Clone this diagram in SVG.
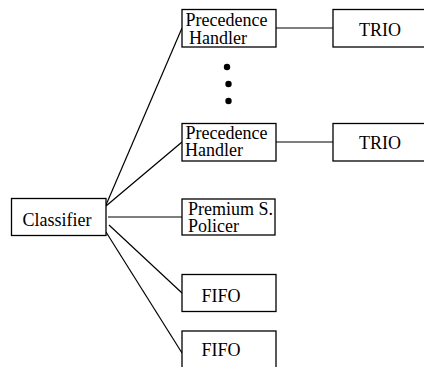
<svg xmlns="http://www.w3.org/2000/svg" width="424" height="367" viewBox="0 0 424 367">
  <style>
    .box { fill: #fff; stroke: #000; stroke-width: 1.3; }
    .lbl { font-family: "Liberation Serif", "Times New Roman", serif; font-size: 18px; fill: #000; }
    .wire { stroke: #000; stroke-width: 1.2; fill: none; }
  </style>
  <rect width="424" height="367" fill="#fff"/>

  <g id="connectors">
    <line class="wire" x1="106" y1="205" x2="182" y2="28"/>
    <line class="wire" x1="106" y1="206" x2="182" y2="142"/>
    <line class="wire" x1="108" y1="217" x2="182" y2="217"/>
    <line class="wire" x1="109" y1="225" x2="182" y2="293"/>
    <line class="wire" x1="106" y1="232" x2="182" y2="353"/>
    <line class="wire" x1="276" y1="28" x2="333" y2="28"/>
    <line class="wire" x1="276" y1="142" x2="333" y2="142"/>
  </g>

  <g id="classifier">
    <rect class="box" x="11.5" y="198.5" width="94.5" height="37"/>
    <text class="lbl" x="22.5" y="225.5">Classifier</text>
  </g>

  <g id="precedence-handler-1">
    <rect class="box" x="182" y="9.5" width="94" height="37.5"/>
    <text class="lbl" x="185.5" y="25.5">Precedence</text>
    <text class="lbl" x="189" y="43.5">Handler</text>
  </g>

  <g id="trio-1">
    <rect class="box" x="333" y="9.5" width="96" height="37.5"/>
    <text class="lbl" x="359" y="36">TRIO</text>
  </g>

  <g id="ellipsis">
    <circle cx="227" cy="67" r="3.2"/>
    <circle cx="228.5" cy="84" r="3.2"/>
    <circle cx="228.5" cy="101" r="3.2"/>
  </g>

  <g id="precedence-handler-2">
    <rect class="box" x="182" y="123.5" width="94" height="37.5"/>
    <text class="lbl" x="185.5" y="138.5">Precedence</text>
    <text class="lbl" x="185" y="156">Handler</text>
  </g>

  <g id="trio-2">
    <rect class="box" x="333" y="123.5" width="96" height="37.5"/>
    <text class="lbl" x="359" y="148.5">TRIO</text>
  </g>

  <g id="premium-policer">
    <rect class="box" x="182" y="199" width="93" height="36"/>
    <text class="lbl" x="188" y="215">Premium S.</text>
    <text class="lbl" x="188" y="231.5">Policer</text>
  </g>

  <g id="fifo-1">
    <rect class="box" x="182" y="274.5" width="94" height="37"/>
    <text class="lbl" x="201.5" y="301.5">FIFO</text>
  </g>

  <g id="fifo-2">
    <rect class="box" x="182" y="331" width="94" height="40"/>
    <text class="lbl" x="201.5" y="356">FIFO</text>
  </g>
</svg>
